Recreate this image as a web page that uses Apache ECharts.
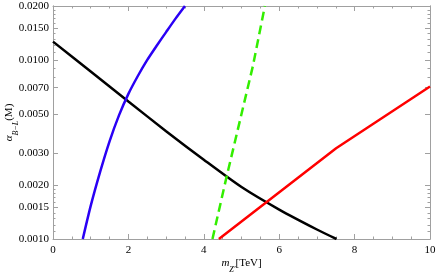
<!DOCTYPE html>
<html><head><meta charset="utf-8">
<script src="https://cdn.jsdelivr.net/npm/echarts@6/dist/echarts.min.js"></script>
<style>html,body{margin:0;padding:0;background:#fff}#c{width:436px;height:275px}</style>
</head><body><div id="c"></div>
<script>
// data
const blackX = [0, 1, 2, 3, 4, 5, 6, 7, 7.52];
const blackY = [0.01265, 0.00861, 0.00586, 0.0040, 0.00277, 0.00195, 0.00146, 0.00113, 0.001];
const blueX = [0.79, 1.0, 1.25, 1.5, 1.75, 2.0, 2.25, 2.5, 2.75, 3.0, 3.25, 3.5];
const blueY = [0.001, 0.00153, 0.00237, 0.00351, 0.0049, 0.00646, 0.00813, 0.0100, 0.0120, 0.0143, 0.0170, 0.02];
const greenX = [4.23, 4.59, 5.30, 5.62];
const greenY = [0.001, 0.00216, 0.0092, 0.02];
const redX = [4.40, 7.51, 10];
const redY = [0.001, 0.00321, 0.0071];
const yMajor = [0.001, 0.0015, 0.002, 0.003, 0.005, 0.007, 0.01, 0.015, 0.02];
const yMinor = [0.0011, 0.0012, 0.0013, 0.0014, 0.0016, 0.0017, 0.0018, 0.0019, 0.008, 0.009, 0.011, 0.012, 0.013, 0.014, 0.016, 0.017, 0.018, 0.019];

const zip = (a, b) => a.map((v, i) => [v, b[i]]);
const font = 'Liberation Serif';
const frame = '#a0a0a0';
const rich = {
  i: { fontFamily: font, fontStyle: 'italic', fontSize: 11, color: '#000' },
  s: { fontFamily: font, fontStyle: 'italic', fontSize: 8, color: '#000', verticalAlign: 'bottom', padding: [0, 0, -5, 0] }
};
function xAx(pos, labels) {
  return {
    type: 'value', position: pos, min: 0, max: 10, interval: 2,
    axisLine: { show: true, lineStyle: { color: frame, width: 1 } },
    axisTick: { show: true, inside: true, length: 5, lineStyle: { color: frame } },
    minorTick: { show: true, splitNumber: 4, length: 2.5, lineStyle: { color: frame } },
    axisLabel: { show: labels, color: '#000', fontFamily: font, fontSize: 11, margin: 6 },
    splitLine: { show: false }, minorSplitLine: { show: false },
    name: labels ? '{i|m}{s|Z′}[TeV]' : '', nameLocation: 'middle', nameGap: 19, nameMoveOverlap: false,
    nameTextStyle: { color: '#000', fontFamily: font, fontSize: 11, rich: rich }
  };
}
function yAx(pos, ticks, len, labels) {
  return {
    type: 'log', logBase: 10, position: pos, min: 0.001, max: 0.02,
    axisLine: { show: true, lineStyle: { color: frame, width: 1 } },
    axisTick: { show: true, inside: true, length: len, customValues: ticks, lineStyle: { color: frame } },
    axisLabel: { show: labels, customValues: ticks, hideOverlap: false, color: '#000', fontFamily: font, fontSize: 11, margin: 4,
      formatter: v => Number(v).toFixed(4) },
    splitLine: { show: false },
    name: labels ? '{i|α}{s|B−L}(M)' : '', nameLocation: 'middle', nameGap: 38, nameRotate: 90, nameMoveOverlap: false,
    nameTextStyle: { color: '#000', fontFamily: font, fontSize: 11, rich: rich, padding: [0, 0, 0, 0] }
  };
}
const chart = echarts.init(document.getElementById('c'), null, { renderer: 'canvas' });
chart.setOption({
  animation: false,
  grid: { left: 53, right: 6, top: 6, bottom: 36, containLabel: false, outerBoundsMode: 'none' },
  xAxis: [xAx('bottom', true), xAx('top', false)],
  yAxis: [yAx('left', yMajor, 5, true), yAx('left', yMinor, 2.5, false), yAx('right', yMajor, 5, false), yAx('right', yMinor, 2.5, false)],
  series: [
    { type: 'line', data: zip(blackX, blackY), smooth: 0.25, symbol: 'none', lineStyle: { color: '#000', width: 2.5 } },
    { type: 'line', data: zip(blueX, blueY), smooth: 0.25, symbol: 'none', lineStyle: { color: '#2a00f5', width: 2.5 } },
    { type: 'line', data: zip(greenX, greenY), symbol: 'none', lineStyle: { color: '#33ee00', width: 2.5, type: [9, 5] } },
    { type: 'line', data: zip(redX, redY), symbol: 'none', lineStyle: { color: '#ff0000', width: 2.5 } }
  ]
});
</script></body></html>
